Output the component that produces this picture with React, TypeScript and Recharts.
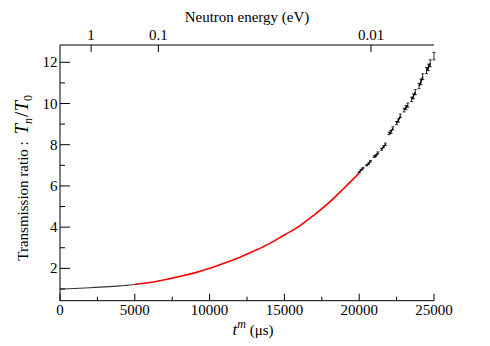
import React from 'react';
import { ComposedChart, Line, Scatter, ErrorBar, XAxis, YAxis } from 'recharts';

const FONT = "'Liberation Serif', 'Times New Roman', serif";

// Main curve: time of flight (µs) and transmission ratio
const mainT = [0, 1000, 2000, 3000, 4000, 5000, 6000, 7000, 8000, 9000, 10000, 11000, 12000, 13000, 14000, 15000, 16000, 17000, 18000, 19000, 20000];
const mainV = [1.0, 1.02, 1.06, 1.1, 1.15, 1.22, 1.31, 1.45, 1.6, 1.78, 2.0, 2.26, 2.53, 2.85, 3.2, 3.62, 4.05, 4.6, 5.2, 5.9, 6.62];
const redStart = 5000;
const redEnd = 20000;

// Noisy tail with error bars (null = gap)
const tailT = [20000, 20125, 20250, 20375, 20500, 20625, 20750, 20875, 21000, 21125, 21250, 21375, 21500, 21625, 21750, 21875, 22000, 22125, 22250, 22375, 22500, 22625, 22750, 22875, 23000, 23125, 23250, 23375, 23500, 23625, 23750, 23875, 24000, 24125, 24250, 24375, 24500, 24625, 24750, 24875, 25000];
const tailV = [6.66, 6.78, 6.86, null, 7.0, 7.08, 7.2, null, 7.42, 7.48, 7.6, null, 7.78, 7.9, 8.02, null, 8.55, 8.62, 8.8, null, 9.05, 9.18, 9.4, null, 9.68, 9.8, 9.92, null, 10.2, 10.35, 10.55, null, 10.85, 11.05, 11.3, null, 11.6, 11.75, 11.95, null, 12.3];
const tailErr = [0.02, 0.02, 0.03, 0, 0.03, 0.03, 0.04, 0, 0.04, 0.04, 0.05, 0, 0.05, 0.05, 0.06, 0, 0.06, 0.07, 0.07, 0, 0.08, 0.08, 0.09, 0, 0.09, 0.1, 0.1, 0, 0.11, 0.12, 0.12, 0, 0.13, 0.14, 0.14, 0, 0.15, 0.16, 0.17, 0, 0.18];

const xTicks = [0, 5000, 10000, 15000, 20000, 25000];
const xMinorTicks = [2500, 7500, 12500, 17500, 22500];
const yTicks = [2, 4, 6, 8, 10, 12];
const yMinorTicks = [1, 3, 5, 7, 9, 11];
const energyValues = [1, 0.1, 0.01];
const energyLabels = ['1', '0.1', '0.01'];
const T_AT_001_EV = 20790; // µs at 0.01 eV (E ∝ 1/t²)
const energyTicks = energyValues.map((e) => T_AT_001_EV * Math.sqrt(0.01 / e));

const xDomain = [0, 25000];
const yDomain = [0.43, 12.84];

const mainData = mainT.map((t, i) => ({
  t,
  black: t <= redStart ? mainV[i] : null,
  red: t >= redStart && t <= redEnd ? mainV[i] : null,
}));
const tailData = tailT.map((t, i) => ({ t, v: tailV[i], err: tailErr[i] }));
const tailPts = tailData.filter((d) => d.v !== null);

const textStyle = { style: { fontFamily: FONT, fontSize: 15 }, fill: '#000' };

const XTick = (p: any) => {
  const v = p.payload.value;
  const major = xTicks.includes(v);
  return (
    <g>
      <line x1={p.x} x2={p.x} y1={p.y} y2={p.y - (major ? 7 : 4)} stroke="#000" />
      {major && (
        <text x={p.x} y={p.y + 14} textAnchor="middle" {...textStyle}>
          {v}
        </text>
      )}
    </g>
  );
};

const TopTick = (p: any) => {
  const idx = p.index;
  return (
    <g>
      <line x1={p.x} x2={p.x} y1={p.y} y2={p.y + 7} stroke="#000" />
      <text x={p.x} y={p.y - 5} textAnchor="middle" {...textStyle}>
        {energyLabels[idx]}
      </text>
    </g>
  );
};

const YTick = (p: any) => {
  const v = p.payload.value;
  const major = yTicks.includes(v);
  return (
    <g>
      <line x1={p.x} x2={p.x + (major ? 10 : 5)} y1={p.y} y2={p.y} stroke="#000" />
      {major && (
        <text x={p.x - 2.5} y={p.y + 5} textAnchor="end" {...textStyle}>
          {v}
        </text>
      )}
    </g>
  );
};

const BottomTitle = (props: any) => {
  const vb = props.viewBox;
  return (
    <text x={vb.x + vb.width / 2 + 6} y={vb.y + 34} textAnchor="middle" {...textStyle}>
      <tspan fontStyle="italic" style={{ fontSize: 17 }}>t</tspan>
      <tspan fontStyle="italic" style={{ fontSize: 12 }} dy={-7}>m</tspan>
      <tspan dy={7}> (μs)</tspan>
    </text>
  );
};

const TopTitle = (props: any) => {
  const vb = props.viewBox;
  return (
    <text x={vb.x + vb.width / 2} y={22} textAnchor="middle" {...textStyle}>
      Neutron energy (eV)
    </text>
  );
};

const LeftTitle = (props: any) => {
  const vb = props.viewBox;
  const cx = vb.x + 8.5;
  const cy = vb.y + vb.height / 2 + 5;
  return (
    <text x={cx} y={cy} textAnchor="middle" transform={`rotate(-90, ${cx}, ${cy})`} {...textStyle}>
      <tspan>Transmission ratio : </tspan>
      <tspan fontStyle="italic" style={{ fontSize: 19 }} dx={3}>T</tspan>
      <tspan fontStyle="italic" style={{ fontSize: 12 }} dy={4}>n</tspan>
      <tspan style={{ fontSize: 19 }} dy={-4} dx={1}>/</tspan>
      <tspan fontStyle="italic" style={{ fontSize: 19 }}>T</tspan>
      <tspan style={{ fontSize: 12 }} dy={4}>0</tspan>
    </text>
  );
};

export default function App() {
  return (
    <div style={{ position: 'absolute', left: 0, top: 0, width: 490, height: 346, background: '#fff', fontFamily: FONT }}>
      <ComposedChart width={490} height={346} margin={{ top: 20, right: 56, bottom: 15.3, left: 20 }} style={{ fontFamily: FONT }}>
        <XAxis
          xAxisId="top"
          orientation="top"
          type="number"
          dataKey="t"
          domain={xDomain}
          allowDataOverflow
          ticks={energyTicks}
          interval={0}
          tickSize={0}
          tickMargin={0}
          tickLine={false}
          height={25}
          stroke="#000"
          tick={<TopTick />}
          label={{ content: <TopTitle /> }}
        />
        <XAxis
          xAxisId="main"
          orientation="bottom"
          type="number"
          dataKey="t"
          domain={xDomain}
          allowDataOverflow
          ticks={[...xTicks, ...xMinorTicks].sort((a, b) => a - b)}
          interval={0}
          tickSize={0}
          tickMargin={0}
          tickLine={false}
          height={30}
          stroke="#000"
          tick={<XTick />}
          label={{ content: <BottomTitle /> }}
        />
        <YAxis
          yAxisId="main"
          type="number"
          domain={yDomain}
          allowDataOverflow
          ticks={[...yTicks, ...yMinorTicks].sort((a, b) => a - b)}
          interval={0}
          tickSize={0}
          tickMargin={0}
          tickLine={false}
          width={40}
          stroke="#000"
          tick={<YTick />}
          label={{ content: <LeftTitle /> }}
        />
        <YAxis
          yAxisId="right"
          orientation="right"
          type="number"
          domain={yDomain}
          allowDataOverflow
          ticks={[]}
          tick={false}
          tickLine={false}
          width={0}
          stroke="#000"
        />
        <Line
          xAxisId="main"
          yAxisId="main"
          data={mainData}
          dataKey="black"
          type="monotone"
          stroke="#333"
          strokeWidth={1.1}
          dot={false}
          isAnimationActive={false}
        />
        <Line
          xAxisId="main"
          yAxisId="main"
          data={mainData}
          dataKey="red"
          type="monotone"
          stroke="#ff0000"
          strokeWidth={1.6}
          dot={false}
          isAnimationActive={false}
        />
        <Line
          xAxisId="main"
          yAxisId="main"
          data={tailData}
          dataKey="v"
          type="linear"
          stroke="#000"
          strokeWidth={1.3}
          dot={false}
          isAnimationActive={false}
        />
        <Scatter
          xAxisId="main"
          yAxisId="main"
          data={tailPts}
          dataKey="v"
          shape={() => <g />}
          isAnimationActive={false}
        >
          <ErrorBar dataKey="err" direction="y" width={1.5} stroke="#000" strokeWidth={0.8} />
        </Scatter>
      </ComposedChart>
    </div>
  );
}
